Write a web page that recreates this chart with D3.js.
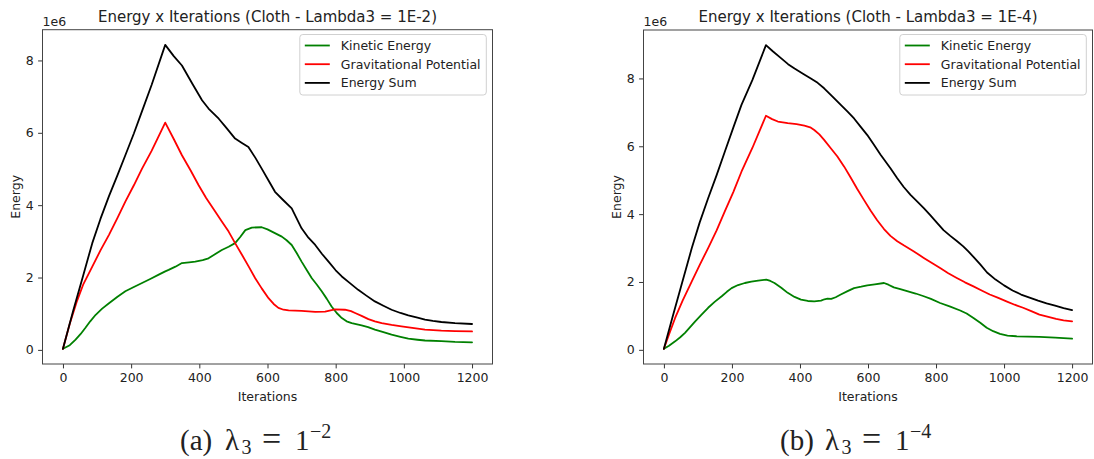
<!DOCTYPE html>
<html>
<head>
<meta charset="utf-8">
<script src="https://cdn.jsdelivr.net/npm/d3@7"></script>
<style>
  html, body { margin: 0; padding: 0; background: #fff; }
  svg { display: block; }
  text { font-family: "DejaVu Sans", sans-serif; fill: #222; }
</style>
</head>
<body>
<svg id="chart" width="1094" height="459"></svg>
<script>
// ---------------- DATA (energy values in units of 1e6) ----------------
const xTicks = [0, 200, 400, 600, 800, 1000, 1200];
const yTicks = [0, 2, 4, 6, 8];
const seriesNames = ["Kinetic Energy", "Gravitational Potential", "Energy Sum"];
const seriesColors = ["#008000", "#ff0000", "#000000"];
const titles = ["Energy x Iterations (Cloth - Lambda3 = 1E-2)", "Energy x Iterations (Cloth - Lambda3 = 1E-4)"];
const captionLabels = ["(a)", "(b)"];
const captionExponents = ["\u22122", "\u22124"];

// Panel (a): Lambda3 = 1E-2
const kineticA_x = [0,20,37,52,66,80,96,115,135,160,183,208,232,256,281,300,310,330,349,370,388,410,427,447,466,486,505,520,535,554,583,600,613,642,656,671,686,700,715,730,745,759,774,788,803,818,832,847,876,895,915,940,964,990,1013,1040,1062,1110,1150,1200];
const kineticA_y = [0.03,0.13,0.285,0.44,0.61,0.79,0.97,1.14,1.29,1.47,1.62,1.74,1.85,1.96,2.08,2.17,2.21,2.30,2.40,2.42,2.44,2.48,2.53,2.65,2.76,2.85,2.95,3.12,3.31,3.38,3.39,3.33,3.27,3.13,3.03,2.90,2.67,2.44,2.21,1.98,1.80,1.62,1.41,1.20,1.02,0.88,0.79,0.74,0.68,0.63,0.56,0.49,0.42,0.36,0.31,0.28,0.26,0.24,0.22,0.21];
const potentialA_x = [0,20,40,60,86,110,135,160,183,208,232,260,300,325,349,375,398,420,447,466,486,505,525,545,564,583,603,618,632,647,662,700,740,769,798,827,845,857,876,896,915,935,964,993,1030,1062,1110,1150,1200];
const potentialA_y = [0.03,0.72,1.32,1.82,2.30,2.75,3.18,3.65,4.10,4.55,5.01,5.50,6.28,5.83,5.38,4.95,4.55,4.20,3.82,3.55,3.27,2.95,2.63,2.30,1.98,1.70,1.43,1.27,1.16,1.11,1.09,1.08,1.05,1.06,1.12,1.11,1.07,1.02,0.94,0.85,0.79,0.74,0.69,0.65,0.60,0.56,0.53,0.52,0.51];
const sumA_x = [0,30,60,86,110,135,160,183,208,232,260,300,325,349,380,408,427,457,480,505,525,544,565,583,603,622,645,671,700,720,740,760,779,800,818,840,866,890,915,940,964,990,1013,1040,1062,1085,1110,1150,1200];
const sumA_y = [0.03,1.08,2.08,2.95,3.62,4.25,4.83,5.38,5.98,6.60,7.32,8.43,8.12,7.86,7.35,6.90,6.67,6.39,6.13,5.84,5.72,5.61,5.30,5.01,4.68,4.37,4.15,3.91,3.36,3.10,2.90,2.65,2.44,2.20,2.03,1.86,1.66,1.50,1.34,1.22,1.11,1.02,0.955,0.89,0.836,0.80,0.771,0.74,0.716];

// Panel (b): Lambda3 = 1E-4
const kineticB_x = [0,15,33,48,62,77,92,110,130,150,170,185,199,218,238,257,277,301,313,325,345,364,384,403,423,442,462,472,481,492,505,520,540,559,580,598,620,647,660,676,695,715,740,764,785,812,840,871,890,910,930,949,968,988,1010,1036,1070,1104,1150,1200];
const kineticB_y = [0.03,0.12,0.25,0.37,0.50,0.67,0.84,1.03,1.24,1.42,1.58,1.71,1.82,1.91,1.97,2.01,2.04,2.07,2.03,1.97,1.83,1.68,1.56,1.48,1.44,1.43,1.45,1.49,1.51,1.50,1.55,1.63,1.73,1.82,1.86,1.90,1.93,1.97,1.92,1.84,1.79,1.73,1.66,1.58,1.50,1.38,1.28,1.16,1.07,0.94,0.80,0.65,0.55,0.47,0.42,0.40,0.39,0.38,0.36,0.33];
const potentialB_x = [0,15,33,55,82,105,130,155,179,204,228,260,300,318,335,364,390,413,430,442,457,471,490,510,530,549,568,588,608,627,647,666,686,705,735,764,788,812,836,861,885,910,934,958,983,1007,1031,1056,1080,1104,1130,1153,1175,1200];
const potentialB_y = [0.03,0.45,0.94,1.45,2.02,2.50,3.00,3.52,4.08,4.65,5.25,5.95,6.90,6.80,6.73,6.68,6.65,6.61,6.56,6.48,6.35,6.19,5.95,5.70,5.40,5.08,4.75,4.42,4.10,3.82,3.56,3.36,3.20,3.08,2.90,2.71,2.56,2.41,2.26,2.12,1.99,1.87,1.75,1.63,1.53,1.43,1.33,1.24,1.14,1.04,0.97,0.91,0.87,0.84];
const sumB_x = [0,25,50,82,105,130,155,179,204,228,260,300,320,345,365,384,410,432,452,471,495,520,540,559,578,598,617,637,666,686,705,725,745,764,783,803,822,842,862,880,895,910,930,950,975,1000,1025,1050,1075,1100,1125,1150,1175,1200];
const sumB_y = [0.03,0.95,1.85,3.00,3.75,4.47,5.15,5.84,6.55,7.22,7.95,8.98,8.80,8.59,8.42,8.29,8.13,8.00,7.87,7.71,7.47,7.22,7.02,6.82,6.58,6.33,6.05,5.75,5.35,5.06,4.80,4.57,4.37,4.18,3.97,3.74,3.53,3.36,3.20,3.05,2.90,2.74,2.52,2.28,2.07,1.90,1.75,1.63,1.54,1.45,1.37,1.30,1.23,1.17];

// ---------------- LAYOUT ----------------
const panels = [
  { left: 42.5, right: 492.5, top: 29.7, bottom: 364, captionX: 180,
    data: [[kineticA_x, kineticA_y], [potentialA_x, potentialA_y], [sumA_x, sumA_y]] },
  { left: 643.5, right: 1092.5, top: 30, bottom: 364, captionX: 780,
    data: [[kineticB_x, kineticB_y], [potentialB_x, potentialB_y], [sumB_x, sumB_y]] }
];

const svg = d3.select("#chart");
const FS = 12.5;

panels.forEach((p, pi) => {
  const g = svg.append("g");
  const allY = p.data.flatMap(d => d[1]);
  const yMin = d3.min(allY), yMax = d3.max(allY), yR = yMax - yMin;
  const xMin = 0, xMax = 1200, xR = xMax - xMin;
  const x = d3.scaleLinear().domain([xMin - 0.05 * xR, xMax + 0.05 * xR]).range([p.left, p.right]);
  const y = d3.scaleLinear().domain([yMin - 0.05 * yR, yMax + 0.05 * yR]).range([p.bottom, p.top]);

  // lines
  const line = d3.line().x(d => x(d[0])).y(d => y(d[1]));
  p.data.forEach((s, si) => {
    const pts = s[0].map((v, i) => [v, s[1][i]]);
    g.append("path").datum(pts)
      .attr("d", line)
      .attr("fill", "none")
      .attr("stroke", seriesColors[si])
      .attr("stroke-width", 1.8)
      .attr("stroke-linejoin", "round")
      .attr("stroke-linecap", "round");
  });

  // axes
  const xAxis = g.append("g").attr("transform", `translate(0,${p.bottom})`)
    .call(d3.axisBottom(x).tickValues(xTicks).tickSize(4.4).tickPadding(4.4).tickFormat(d3.format("d")));
  const yAxis = g.append("g").attr("transform", `translate(${p.left},0)`)
    .call(d3.axisLeft(y).tickValues(yTicks).tickSize(4.4).tickPadding(4.4).tickFormat(d3.format("d")));
  [xAxis, yAxis].forEach(a => {
    a.select(".domain").remove();
    a.selectAll(".tick line").attr("stroke", "#333").attr("stroke-width", 1);
    a.selectAll(".tick text").attr("font-size", FS).attr("font-family", "DejaVu Sans").attr("fill", "#222");
  });

  // spines
  g.append("rect")
    .attr("x", p.left).attr("y", p.top)
    .attr("width", p.right - p.left).attr("height", p.bottom - p.top)
    .attr("fill", "none").attr("stroke", "#444").attr("stroke-width", 1);

  const cx = (p.left + p.right) / 2;
  // title
  g.append("text").attr("x", cx).attr("y", 22)
    .attr("text-anchor", "middle").attr("font-size", 15).text(titles[pi]);
  // offset label
  g.append("text").attr("x", p.left).attr("y", 26)
    .attr("font-size", FS).text("1e6");
  // x label
  g.append("text").attr("x", cx).attr("y", 401)
    .attr("text-anchor", "middle").attr("font-size", FS).text("Iterations");
  // y label
  g.append("text")
    .attr("transform", `translate(${p.left - 22.5},${(p.top + p.bottom) / 2}) rotate(-90)`)
    .attr("text-anchor", "middle").attr("font-size", FS).text("Energy");

  // legend
  const lgX = p.right - 6.2 - 186.5, lgY = 34.5;
  const lg = g.append("g").attr("transform", `translate(${lgX},${lgY})`);
  lg.append("rect").attr("width", 186.5).attr("height", 60.5).attr("rx", 3)
    .attr("fill", "#fff").attr("fill-opacity", 0.8)
    .attr("stroke", "#d0d0d0").attr("stroke-width", 1);
  seriesNames.forEach((nm, i) => {
    const ry = 11 + i * 18.7;
    lg.append("line").attr("x1", 5).attr("x2", 30).attr("y1", ry).attr("y2", ry)
      .attr("stroke", seriesColors[i]).attr("stroke-width", 1.8);
    lg.append("text").attr("x", 41).attr("y", ry).attr("dy", "0.35em")
      .attr("font-size", FS).text(nm);
  });

  // caption (math-style spacing)
  const cx0 = p.captionX, base = 450;
  const cap = svg.append("text").attr("y", base)
    .style("font-family", "'Liberation Serif', 'DejaVu Serif', serif")
    .attr("font-size", 29).attr("fill", "#000");
  cap.append("tspan").attr("x", cx0).attr("y", base).text(captionLabels[pi]);
  cap.append("tspan").attr("x", cx0 + 45).attr("y", base).text("\u03bb");
  cap.append("tspan").attr("x", cx0 + 61.5).attr("y", base + 4).attr("font-size", 20).text("3");
  cap.append("tspan").attr("x", cx0 + 82).attr("y", base).attr("font-size", 34).text("=");
  cap.append("tspan").attr("x", cx0 + 115).attr("y", base).text("1");
  cap.append("tspan").attr("x", cx0 + 130).attr("y", base - 12).attr("font-size", 20).text(captionExponents[pi]);
});
</script>
</body>
</html>
